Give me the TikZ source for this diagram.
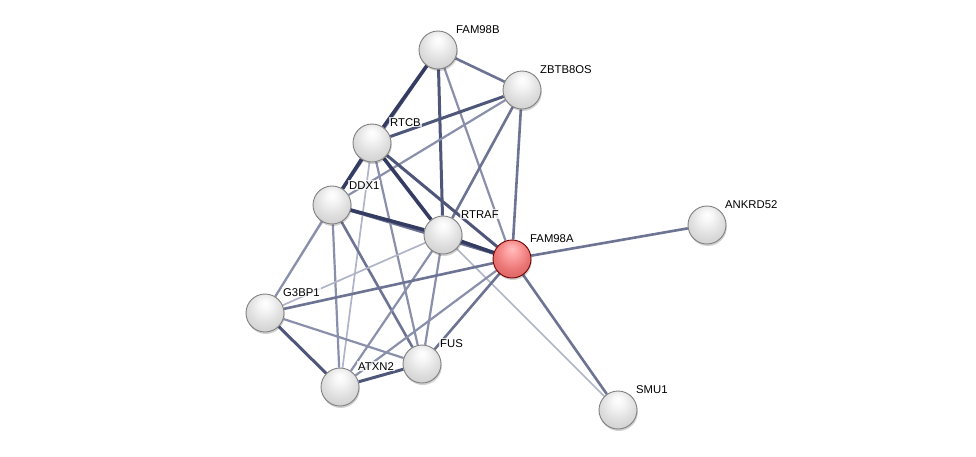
\documentclass[tikz,border=0pt]{standalone}
\usepackage{fontspec}
\setmainfont{Liberation Sans}
\pgfdeclarelayer{bg}
\pgfsetlayers{bg,main}
\pgfdeclareradialshading{greyball}{\pgfpoint{0bp}{14bp}}{color(0bp)=(white); color(7bp)=(white!97!black); color(22bp)=(white!87!black); color(38bp)=(white!78!black); color(50bp)=(white!68!black)}
\pgfdeclareradialshading{redball}{\pgfpoint{0bp}{14bp}}{color(0bp)=(red!25!white); color(7bp)=(red!35!white); color(22bp)=(red!50!white!92!black); color(38bp)=(red!58!white!82!black); color(50bp)=(red!60!white!70!black)}
\definecolor{eA}{HTML}{343C62}
\definecolor{eB}{HTML}{4E5679}
\definecolor{eC}{HTML}{6C7393}
\definecolor{eD}{HTML}{8A90AB}
\definecolor{eE}{HTML}{B0B4C8}
\tikzset{
  prot/.style={circle,minimum size=38pt,inner sep=0pt,draw=white!50!black,line width=0.9pt,shading=greyball,
    preaction={fill=black,opacity=0.18,transform canvas={shift={(0.8,2)}}}},
  protred/.style={prot,shading=redball,draw=red!45!black},
  lab/.style={anchor=base west,inner sep=1pt,fill=white,fill opacity=0.75,text opacity=1,font=\fontsize{11.3}{13}\selectfont},
  eThick/.style={draw=eA,line width=3.6pt},
  eDark/.style={draw=eB,line width=3pt},
  eMed/.style={draw=eC,line width=2.6pt},
  eThin/.style={draw=eD,line width=2.2pt},
  eLight/.style={draw=eE,line width=1.7pt}
}
\begin{document}
\begin{tikzpicture}[x=1pt,y=-1pt]
\useasboundingbox (0,0) rectangle (976,456);
\node[prot] (fam98b) at (438,50) {};
\node[prot] (zbtb) at (522,90) {};
\node[prot] (rtcb) at (372,143) {};
\node[prot] (ddx1) at (332,205) {};
\node[prot] (rtraf) at (443,235) {};
\node[protred] (fam98a) at (512,259) {};
\node[prot] (ankrd) at (707,225) {};
\node[prot] (g3bp1) at (265,313) {};
\node[prot] (fus) at (422,364) {};
\node[prot] (atxn2) at (340,387) {};
\node[prot] (smu1) at (618,410) {};

\node[lab] (lfam98b) at ([shift={(17,-17)}]fam98b.center) {FAM98B};
\node[lab] (lzbtb) at ([shift={(17,-17)}]zbtb.center) {ZBTB8OS};
\node[lab] (lrtcb) at ([shift={(17,-17)}]rtcb.center) {RTCB};
\node[lab] (lddx1) at ([shift={(16,-16)}]ddx1.center) {DDX1};
\node[lab] (lrtraf) at ([shift={(17,-17)}]rtraf.center) {RTRAF};
\node[lab] (lfam98a) at ([shift={(17,-17)}]fam98a.center) {FAM98A};
\node[lab] (lankrd) at ([shift={(17,-17)}]ankrd.center) {ANKRD52};
\node[lab] (lg3bp1) at ([shift={(17,-17)}]g3bp1.center) {G3BP1};
\node[lab] (lfus) at ([shift={(17,-17)}]fus.center) {FUS};
\node[lab] (latxn2) at ([shift={(17,-17)}]atxn2.center) {ATXN2};
\node[lab] (lsmu1) at ([shift={(17,-17)}]smu1.center) {SMU1};

\begin{pgfonlayer}{bg}
\draw[eThin] (fam98b.center) -- (ddx1.center);
\draw[eMed] (ddx1.center) -- (fam98a.center);
\draw[eLight] (rtcb.center) -- (g3bp1.center);
\draw[eThick] (fam98b) -- (rtcb);
\draw[eDark] (fam98b) -- (rtraf);
\draw[eMed] (fam98b) -- (zbtb);
\draw[eThin] (fam98b) -- (fam98a);
\draw[eDark] (zbtb) -- (rtcb);
\draw[eThin] (zbtb) -- (ddx1);
\draw[eMed] (zbtb) -- (rtraf);
\draw[eMed] (zbtb) -- (fam98a);
\draw[eThick] (rtcb) -- (ddx1);
\draw[eThick] (rtcb) -- (rtraf);
\draw[eDark] (rtcb) -- (fam98a);
\draw[eThin] (rtcb) -- (fus);
\draw[eLight] (rtcb) -- (atxn2);
\draw[eThick] (ddx1) -- (rtraf);
\draw[eThin] (ddx1) -- (g3bp1);
\draw[eThin] (ddx1) -- (atxn2);
\draw[eMed] (ddx1) -- (fus);
\draw[eThick] (rtraf) -- (fam98a);
\draw[eLight] (rtraf) -- (g3bp1);
\draw[eThin] (rtraf) -- (atxn2);
\draw[eThin] (rtraf) -- (fus);
\draw[eLight] (rtraf) -- (smu1);
\draw[eMed] (fam98a) -- (ankrd);
\draw[eMed] (fam98a) -- (smu1);
\draw[eMed] (fam98a) -- (g3bp1);
\draw[eMed] (fam98a) -- (fus);
\draw[eThin] (fam98a) -- (atxn2);
\draw[eDark] (g3bp1) -- (atxn2);
\draw[eThin] (g3bp1) -- (fus);
\draw[eDark] (atxn2) -- (fus);
\end{pgfonlayer}
\end{tikzpicture}
\end{document}
